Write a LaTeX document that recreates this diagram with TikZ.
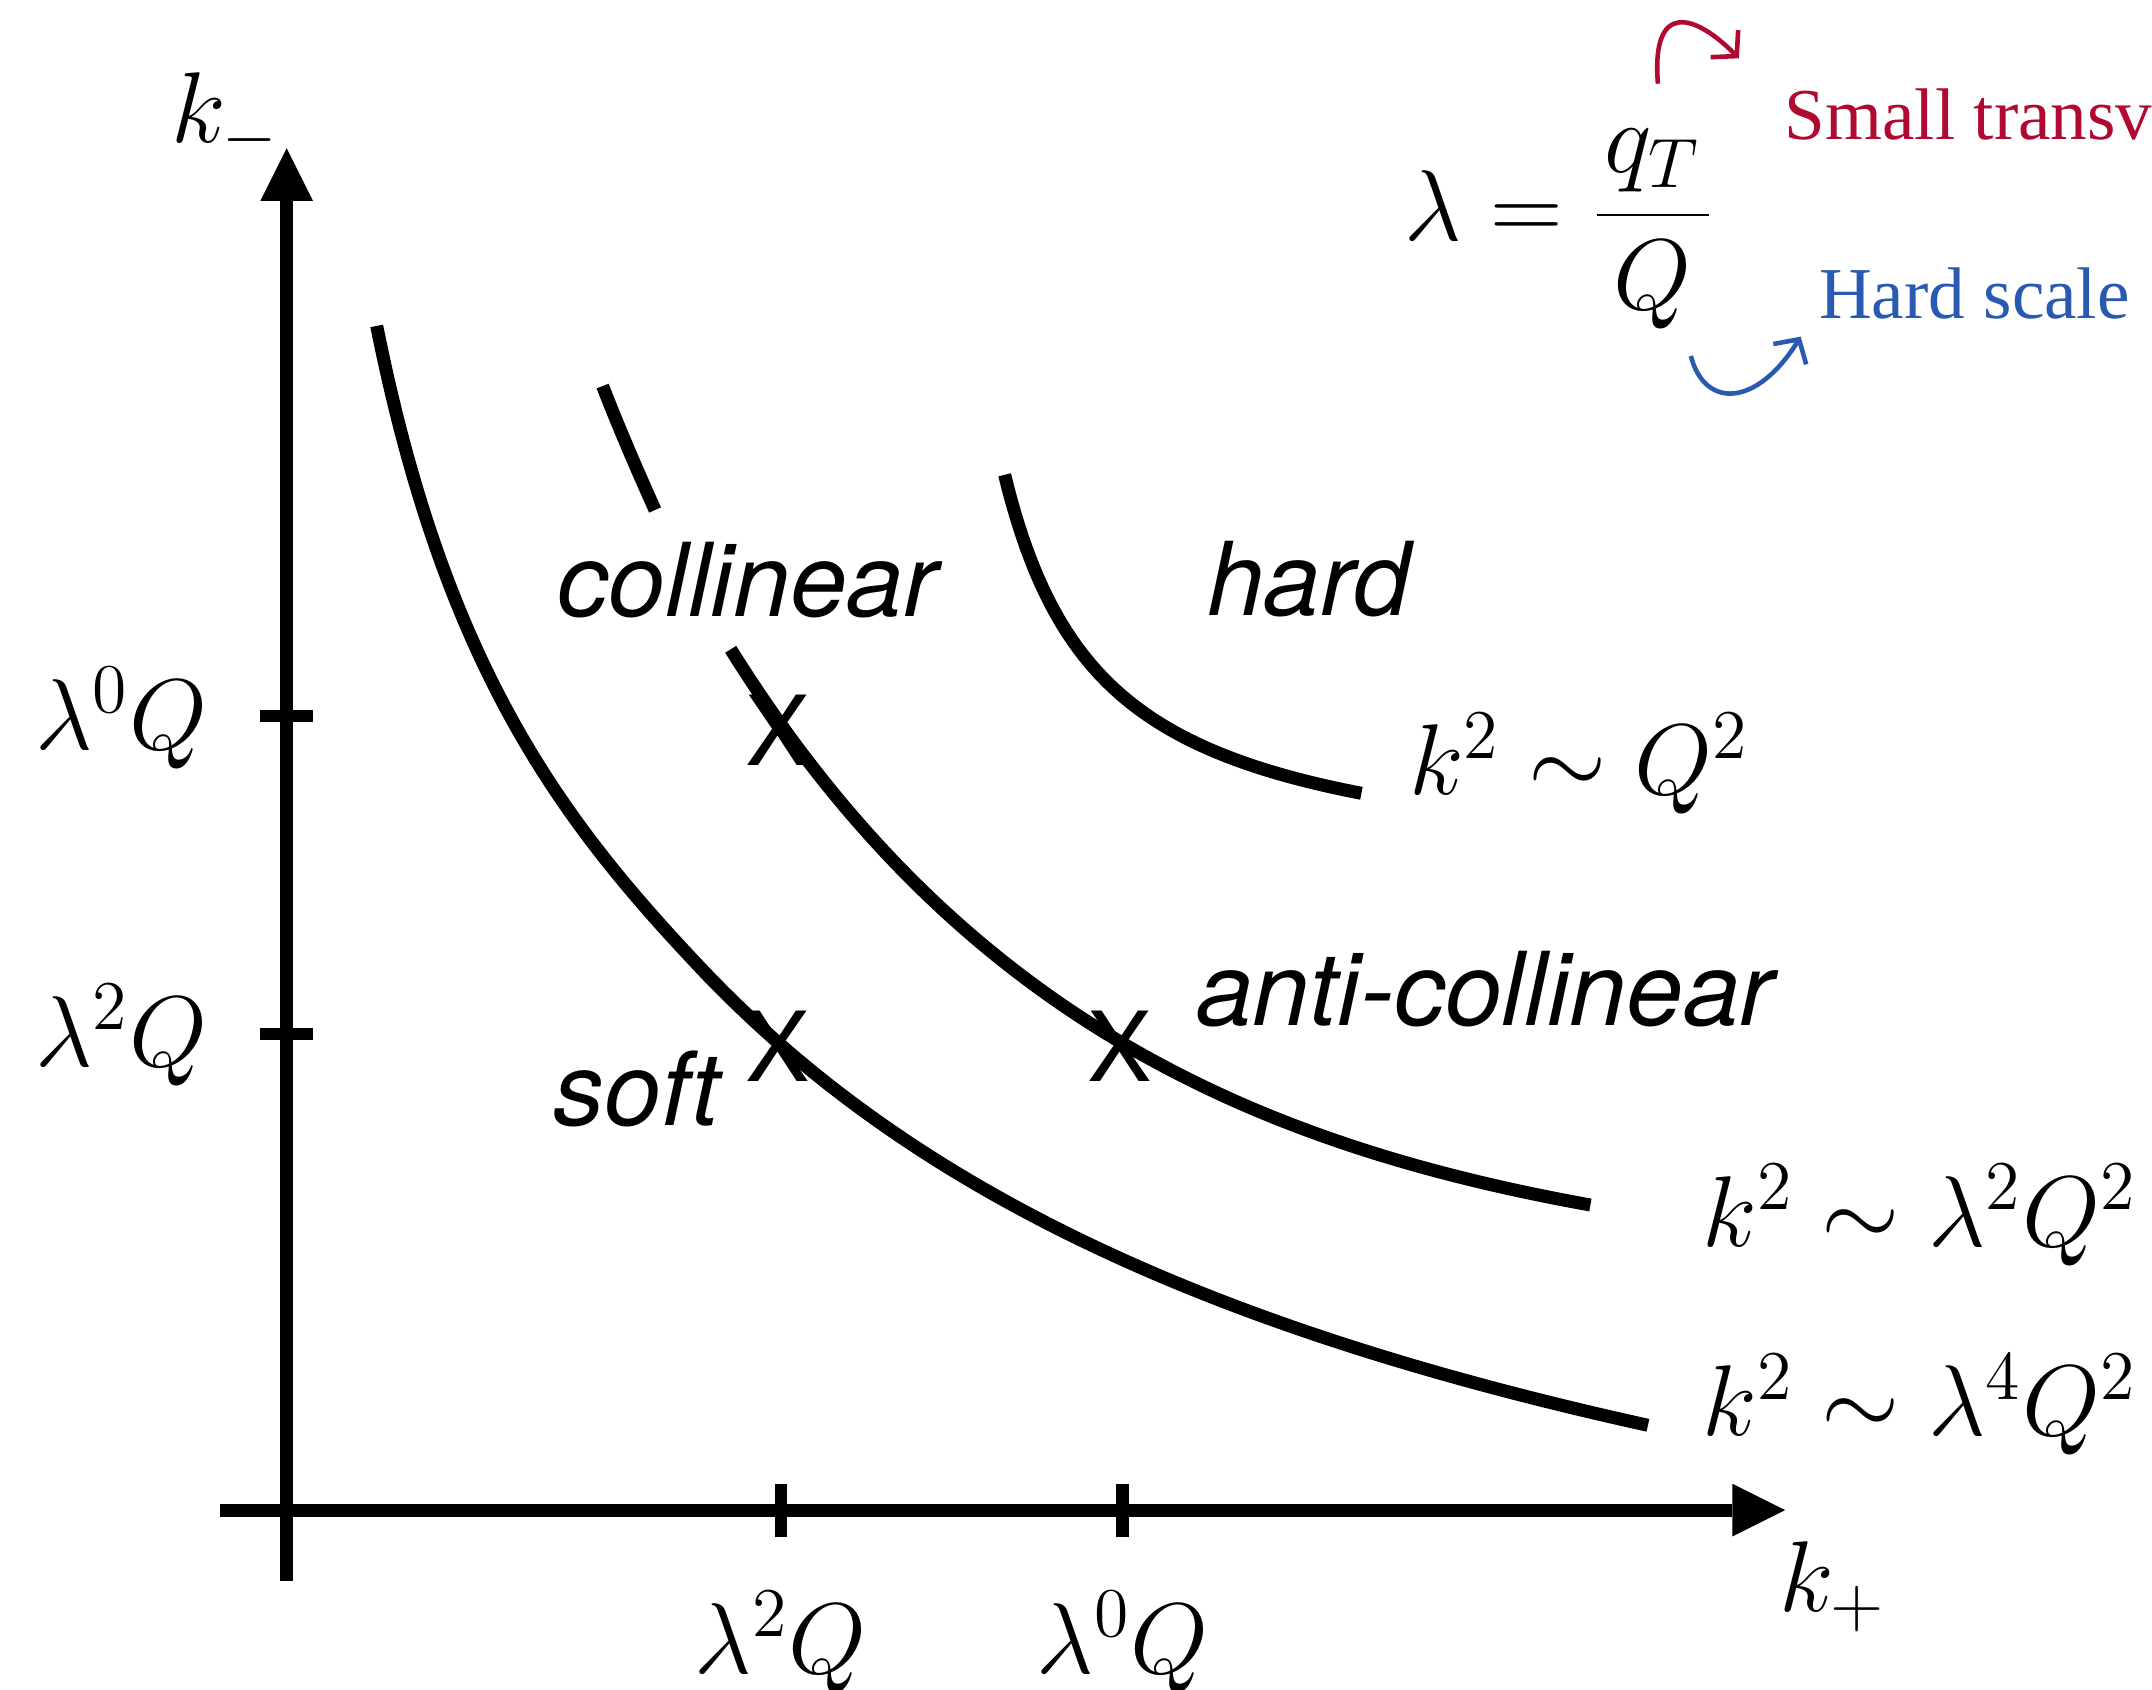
\documentclass[tikz,border=0pt]{standalone}
\usepackage{fontspec}
\newfontfamily\hvfont{TeX Gyre Heros}
\newfontfamily\serfont{Liberation Serif}
\usetikzlibrary{arrows.meta}
\definecolor{myred}{RGB}{176,10,48}
\definecolor{myblue}{RGB}{40,90,178}
\tikzset{
  ax/.style={line width=3.7pt},
  crv/.style={line width=3.7pt},
  tickmark/.style={line width=3.6pt},
  mlab/.style={font=\fontsize{20.74}{25}\selectfont, inner sep=0pt, scale=1.38},
  rlab/.style={font=\hvfont\itshape\fontsize{29}{35}\selectfont, inner sep=0pt},
  xmark/.style={font=\hvfont\fontsize{27.5}{33}\selectfont, inner sep=0pt},
  note/.style={font=\serfont\fontsize{20.8}{25}\selectfont, inner sep=0pt},
  thinarrow/.style={line width=1.3pt, -{Straight Barb[length=5pt,width=11pt]}},
  axtip/.style={-{Triangle[length=15pt,width=15pt,line width=0pt]}}
}
\begin{document}
\begin{tikzpicture}[x=1.3724cm, y=-1.3724cm]
\useasboundingbox (0,0) rectangle (15.68,12.31);
\clip (0,0) rectangle (15.68,12.31);

% axes
\coordinate (ybot) at (2.089,11.52);
\coordinate (ytop) at (2.089,1.08);
\coordinate (xleft) at (1.60,11.003);
\coordinate (xright) at (13.007,11.003);
\draw[ax, axtip] (ybot) -- (ytop);
\draw[ax, axtip] (xleft) -- (xright);

% ticks
\coordinate (ty0a) at (1.895,5.216); \coordinate (ty0b) at (2.28,5.216);
\coordinate (ty2a) at (1.895,7.533); \coordinate (ty2b) at (2.28,7.533);
\coordinate (tx2a) at (5.69,10.81);  \coordinate (tx2b) at (5.69,11.20);
\coordinate (tx0a) at (8.18,10.81);  \coordinate (tx0b) at (8.18,11.20);
\draw[tickmark] (ty0a) -- (ty0b);
\draw[tickmark] (ty2a) -- (ty2b);
\draw[tickmark] (tx2a) -- (tx2b);
\draw[tickmark] (tx0a) -- (tx0b);

% curves
% k^2 ~ lambda^4 Q^2
\coordinate (c4s) at (2.745,2.375);
\coordinate (c4m) at (5.10,7.0478);
\draw[crv] (c4s) .. controls (3.245,4.875) and (4.10,5.989) .. (c4m)
   -- plot[domain=5.10:12.008, samples=120] (\x, {13.184 - 35.5476/(\x+0.693)});
% k^2 ~ lambda^2 Q^2 (interrupted by the label)
\coordinate (c2a) at (4.391,2.813);
\coordinate (c2b) at (4.773,3.716);
\coordinate (c2s) at (5.324,4.731);
\coordinate (c2e) at (11.588,8.78);
\draw[crv] (c2a) .. controls (4.51,3.12) and (4.64,3.42) .. (c2b);
\draw[crv] (c2s) .. controls (6.974,7.371) and (9.088,8.33) .. (c2e);
% k^2 ~ Q^2
\draw[crv] plot[domain=7.32:9.92, samples=100] (\x, {6.422 - 2.1297/(\x-6.601)});

% crosses
\node[xmark] (xcoll) at (5.67,5.32) {X};
\node[xmark] (xsoft) at (5.67,7.62) {X};
\node[xmark] (xanti) at (8.16,7.62) {X};

% region labels
\node[rlab, anchor=base west] (lcoll) at (4.06,4.494) {collinear};
\node[rlab, anchor=base west] (lhard) at (8.79,4.486) {hard};
\node[rlab, anchor=base west] (lanti) at (8.71,7.469) {anti-collinear};
\node[rlab, anchor=base west] (lsoft) at (4.03,8.20) {soft};

% axis labels
\node[mlab, anchor=base west] (km) at (1.24,1.04) {$k_-$};
\node[mlab, anchor=base west] (kp) at (12.96,11.74) {$k_+$};
\node[mlab, anchor=base west] (yl0) at (0.25,5.46) {$\lambda^0 Q$};
\node[mlab, anchor=base west] (yl2) at (0.25,7.77) {$\lambda^2 Q$};
\node[mlab, anchor=base] (xl2) at (5.69,12.19) {$\lambda^2 Q$};
\node[mlab, anchor=base] (xl0) at (8.18,12.19) {$\lambda^0 Q$};

% scaling labels
\node[mlab, anchor=base west] (s0) at (10.26,5.79) {$k^2 \sim Q^2$};
\node[mlab, anchor=base west] (s2) at (12.40,9.08) {$k^2 \sim \lambda^2 Q^2$};
\node[mlab, anchor=base west] (s4) at (12.40,10.46) {$k^2 \sim \lambda^4 Q^2$};

% lambda definition
\node[mlab, anchor=base west] (lam) at (10.23,1.75) {$\lambda = \displaystyle\frac{\mkern1.5mu q_T\mkern1.5mu}{Q}$};

% annotations
\coordinate (ra) at (12.08,0.61);
\coordinate (rb) at (12.67,0.425);
\draw[thinarrow, myred] (ra) .. controls (12.03,0.0) and (12.35,0.10) .. (rb);
\coordinate (ba) at (12.32,2.594);
\coordinate (bb) at (13.12,2.453);
\draw[thinarrow, myblue] (ba) .. controls (12.42,2.98) and (12.80,2.97) .. (bb);
\node[note, text=myred, anchor=base west] (small) at (13.0,1.02) {Small transv};
\node[note, text=myblue, anchor=base west] (hardscale) at (13.25,2.32) {Hard scale};
\end{tikzpicture}
\end{document}
